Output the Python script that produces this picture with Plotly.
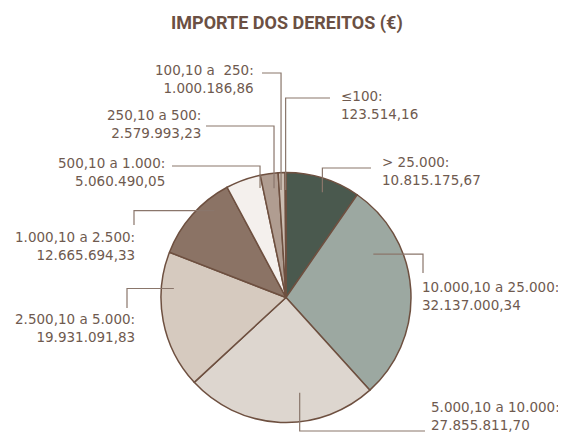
import math
import plotly.graph_objects as go

# ---------------- data ----------------
categories = ["> 25.000", "10.000,10 a 25.000", "5.000,10 a 10.000", "2.500,10 a 5.000",
              "1.000,10 a 2.500", "500,10 a 1.000", "250,10 a 500", "100,10 a&nbsp; 250", "≤100"]
values = [10815175.67, 32137000.34, 27855811.70, 19931091.83, 12665694.33,
          5060490.05, 2579993.23, 1000186.86, 123514.16]
value_labels = ["10.815.175,67", "32.137.000,34", "27.855.811,70", "19.931.091,83",
                "12.665.694,33", "5.060.490,05", "2.579.993,23", "1.000.186,86", "123.514,16"]
slice_colors = ["#4a594e", "#9ca8a1", "#ddd6cf", "#d6cabf", "#8b7365",
                "#f4f0ed", "#b09d91", "#cbbdb2", "#8b6f60"]
title_text = "IMPORTE DOS DEREITOS (€)"

# ---------------- layout constants ----------------
W, H = 566, 434
OX, OY = 8, 8          # page body margin offset
CX, CY, R = 286, 297.5, 125
TEXT_COLOR = "#6f5a4f"
LINE_COLOR = "#8a766b"
BORDER_COLOR = "#6e5040"
FONT = "DejaVu Sans"
FS = 13.5

# label placement: (x, anchor, y line1, y line2, leader kind, leader params, frac in slice, radius frac)
label_layout = [
    (380, "left", 162, 179, "vh", (168, 371), 0.55, 0.89),
    (420, "left", 287, 304, "hv", (423, 273), 0.28, 0.78),
    (429, "left", 407, 425, "vh", (431, 425), 0.38, 0.77),
    (137, "right", 319, 337, "hv", (127, 308), 0.74, 0.90),
    (137, "right", 237, 255, "hv", (134, 225), 0.72, 0.90),
    (167, "right", 163, 181, "vh", (166, 172), 0.91, 0.90),
    (203, "right", 116, 132, "vh", (126, 206), 0.68, 0.88),
    (256, "right", 70, 87, "vh", (73, 262), 0.30, 0.86),
    (339, "left", 96, 113, "vh", (98, 330), 0.50, 0.86),
]


def px(x):
    return (x - OX) / W


def py(y):
    return 1 - (y - OY) / H


fig = go.Figure()
fig.add_trace(go.Pie(
    labels=categories,
    values=values,
    sort=False,
    direction="clockwise",
    rotation=0,
    textinfo="none",
    hoverinfo="label+value",
    marker=dict(colors=slice_colors, line=dict(color=BORDER_COLOR, width=1.5)),
    domain=dict(x=[px(CX - R), px(CX + R)], y=[py(CY + R), py(CY - R)]),
    showlegend=False,
))

total = sum(values)
start = 0.0
shapes = []
annotations = []
for cat, val, vlab, lay in zip(categories, values, value_labels, label_layout):
    span = val / total * 360.0
    tx, anchor, y1, y2, kind, params, frac, rf = lay
    theta = math.radians(start + frac * span)
    ex = CX + rf * R * math.sin(theta)
    ey = CY - rf * R * math.cos(theta)
    start += span
    if kind == "vh":
        yl, xl = params
        pts = [(ex, ey), (ex, yl), (xl, yl)]
    else:
        xl, yl = params
        pts = [(ex, ey), (xl, ey), (xl, yl)]
    path = "M " + " L ".join(f"{px(a):.5f},{py(b):.5f}" for a, b in pts)
    shapes.append(dict(type="path", xref="paper", yref="paper", path=path,
                       line=dict(color=LINE_COLOR, width=1.2), layer="above"))
    annotations.append(dict(text=f"{cat}:<br>{vlab}", x=px(tx), y=py((y1 + y2) / 2),
                            xref="paper", yref="paper", align=anchor,
                            xanchor=anchor, yanchor="middle", showarrow=False,
                            font=dict(family=FONT, size=FS, color=TEXT_COLOR)))

annotations.append(dict(text=f"<b>{title_text}</b>", x=px(287), y=py(23), xref="paper", yref="paper",
                        xanchor="center", yanchor="middle", showarrow=False,
                        font=dict(family="Roboto", size=18, color="#6b5043")))

fig.update_layout(
    width=W, height=H,
    margin=dict(l=0, r=0, t=0, b=0),
    paper_bgcolor="white", plot_bgcolor="white",
    shapes=shapes, annotations=annotations,
)

fig.write_html("out.html")
